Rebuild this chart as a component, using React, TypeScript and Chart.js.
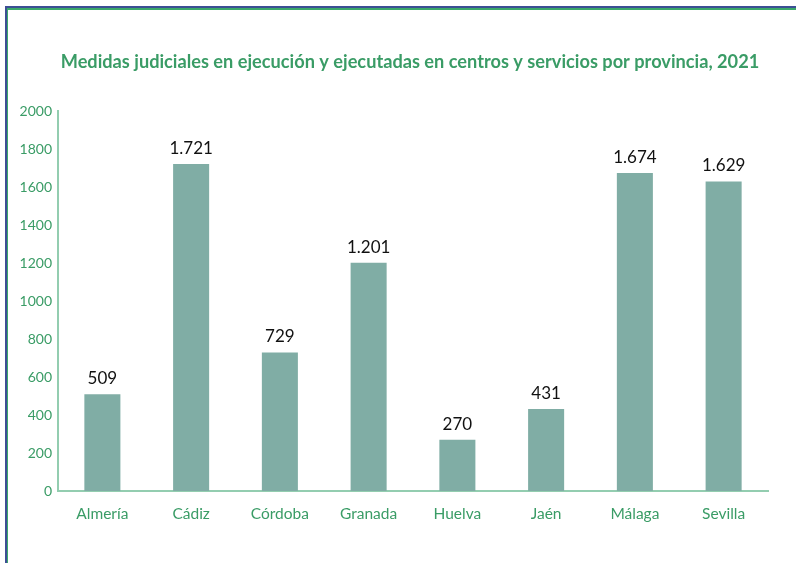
import React, { useEffect, useRef } from "react";
import { Chart, registerables } from "chart.js";

Chart.register(...registerables);

const TITLE = "Medidas judiciales en ejecución y ejecutadas en centros y servicios por provincia, 2021";
const provinces = ["Almería", "Cádiz", "Córdoba", "Granada", "Huelva", "Jaén", "Málaga", "Sevilla"];
const medidas = [509, 1721, 729, 1201, 270, 431, 1674, 1629];
const yTicks = [0, 200, 400, 600, 800, 1000, 1200, 1400, 1600, 1800, 2000];

const GREEN = "#3A9C66";
const BAR = "#80ADA5";
const AXIS = "#93CDB0";
const FONT = "Lato, 'Open Sans', sans-serif";

const fmt = (v: number) => v.toString().replace(/\B(?=(\d{3})+(?!\d))/g, ".");

export default function App() {
  const ref = useRef<HTMLCanvasElement | null>(null);
  useEffect(() => {
    document.body.style.margin = "0";
    const labelPlugin = {
      id: "valueLabels",
      afterDatasetsDraw(chart: any) {
        const ctx = chart.ctx;
        const meta = chart.getDatasetMeta(0);
        ctx.save();
        ctx.fillStyle = "#111111";
        ctx.font = `17px ${FONT}`;
        ctx.textAlign = "center";
        ctx.textBaseline = "bottom";
        meta.data.forEach((bar: any, i: number) => {
          ctx.fillText(fmt(medidas[i]), bar.x, bar.y - 7);
        });
        ctx.restore();
      },
    };
    const titlePlugin = {
      id: "customTitle",
      afterDraw(chart: any) {
        const ctx = chart.ctx;
        ctx.save();
        ctx.fillStyle = GREEN;
        ctx.font = `bold 18.2px ${FONT}`;
        ctx.textAlign = "center";
        ctx.textBaseline = "middle";
        ctx.fillText(TITLE, 410, 62);
        ctx.restore();
      },
    };
    const chart = new Chart(ref.current!, {
      type: "bar",
      data: {
        labels: provinces,
        datasets: [
          {
            data: medidas,
            backgroundColor: BAR,
            barPercentage: 0.406,
            categoryPercentage: 1,
          },
        ],
      },
      options: {
        animation: false,
        responsive: false,
        maintainAspectRatio: false,
        layout: { padding: { left: 0, right: 28, top: 111, bottom: 0 } },
        plugins: { legend: { display: false }, tooltip: { enabled: false }, title: { display: false } },
        scales: {
          x: {
            grid: { display: false, drawTicks: false },
            border: { display: true, color: AXIS, width: 2 },
            ticks: { color: GREEN, font: { family: FONT, size: 15.5 }, padding: 14, maxRotation: 0 },
            afterFit: (s: any) => { s.height = 72; },
          },
          y: {
            min: 0,
            max: 2000,
            afterBuildTicks: (s: any) => { s.ticks = yTicks.map((v) => ({ value: v })); },
            grid: { display: false, drawTicks: false },
            border: { display: true, color: AXIS, width: 2 },
            ticks: { color: GREEN, font: { family: FONT, size: 14 }, padding: 6, callback: (v: any) => String(v) },
            afterFit: (s: any) => { s.width = 58; },
          },
        },
      },
      plugins: [labelPlugin, titlePlugin],
    });
    return () => chart.destroy();
  }, []);
  return (
    <div style={{ position: "fixed", left: 0, top: 0, width: 796, height: 563, background: "#fff" }}>
      <div style={{ position: "absolute", left: 5, top: 6, right: 0, bottom: 0, borderLeft: "2px solid #3D4F94", borderTop: "2px solid #3D4F94" }}>
        <div style={{ position: "absolute", left: 0, top: 0, right: 0, bottom: 0, borderLeft: "1px solid #3BA86A", borderTop: "2px solid #3BA86A" }} />
      </div>
      <canvas ref={ref} width={796} height={563} style={{ position: "absolute", left: 0, top: 0 }} />
    </div>
  );
}
